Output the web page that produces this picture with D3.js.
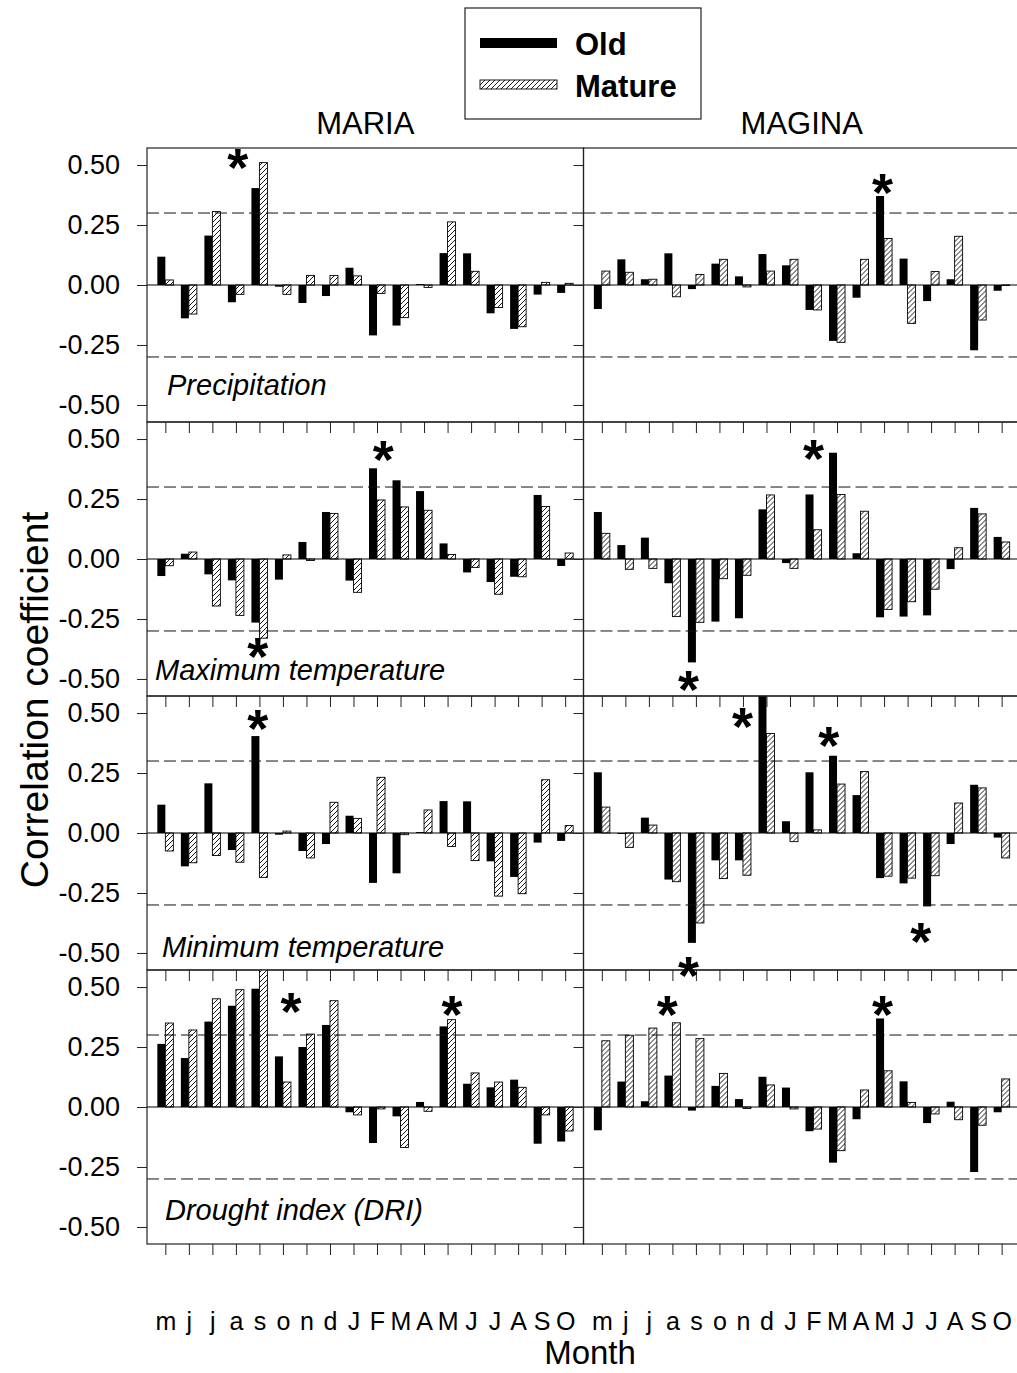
<!DOCTYPE html>
<html lang="en">
<head>
    <meta charset="UTF-8">
    <script src="https://d3js.org/d3.v7.min.js"></script>
    <title>Correlation coefficient</title>
    <style>
        body { margin: 0; background: #fff; }
        svg { font-family: "Liberation Sans", Arial, sans-serif; }
    </style>
</head>
<body>
    <svg id="svg1" width="1017" height="1373"></svg>

    <script>
        // ---- data ----
        const months = ["m","j","j","a","s","o","n","d","J","F","M","A","M","J","J","A","S","O"];
        const sites = ["MARIA", "MAGINA"];
        const variables = ["Precipitation", "Maximum temperature", "Minimum temperature", "Drought index (DRI)"];
        const yTicks = [0.5, 0.25, 0, -0.25, -0.5];
        const yTickLabels = ["0.50", "0.25", "0.00", "-0.25", "-0.50"];
        const sigLevel = 0.3;

        // precipitation
        const precMariaOld     = [0.118,-0.139,0.206,-0.072,0.404,-0.007,-0.075,-0.046,0.072,-0.21,-0.169,0.004,0.133,0.132,-0.118,-0.183,-0.04,-0.033];
        const precMariaMature  = [0.021,-0.121,0.306,-0.039,0.51,-0.039,0.04,0.04,0.038,-0.035,-0.136,-0.01,0.263,0.057,-0.094,-0.174,0.011,0.007];
        const precMaginaOld    = [-0.1,0.107,0.024,0.132,-0.017,0.089,0.036,0.129,0.082,-0.104,-0.233,-0.053,0.371,0.11,-0.067,0.024,-0.272,-0.024];
        const precMaginaMature = [0.058,0.053,0.024,-0.049,0.044,0.107,-0.008,0.058,0.107,-0.104,-0.239,0.107,0.194,-0.16,0.056,0.203,-0.146,-0.002];
        // maximum temperature
        const tmaxMariaOld     = [-0.071,0.022,-0.064,-0.089,-0.265,-0.086,0.071,0.196,-0.09,0.378,0.328,0.283,0.065,-0.056,-0.096,-0.074,0.267,-0.029];
        const tmaxMariaMature  = [-0.028,0.029,-0.196,-0.235,-0.33,0.017,-0.006,0.19,-0.139,0.246,0.217,0.203,0.019,-0.035,-0.147,-0.074,0.219,0.025];
        const tmaxMaginaOld    = [0.196,0.058,0.089,-0.101,-0.431,-0.261,-0.247,0.207,-0.017,0.269,0.443,0.024,-0.243,-0.24,-0.235,-0.042,0.213,0.092];
        const tmaxMaginaMature = [0.107,-0.043,-0.039,-0.24,-0.264,-0.082,-0.068,0.267,-0.039,0.122,0.269,0.199,-0.21,-0.178,-0.126,0.047,0.188,0.071];
        // minimum temperature
        const tminMariaOld     = [0.118,-0.139,0.207,-0.071,0.404,-0.007,-0.075,-0.046,0.072,-0.208,-0.168,0.004,0.133,0.132,-0.118,-0.183,-0.04,-0.033];
        const tminMariaMature  = [-0.075,-0.124,-0.094,-0.122,-0.185,0.008,-0.104,0.128,0.061,0.232,-0.007,0.096,-0.056,-0.115,-0.263,-0.253,0.222,0.031];
        const tminMaginaOld    = [0.253,-0.004,0.064,-0.194,-0.458,-0.114,-0.114,0.6,0.049,0.253,0.322,0.158,-0.188,-0.21,-0.306,-0.046,0.201,-0.019];
        const tminMaginaMature = [0.108,-0.06,0.033,-0.203,-0.375,-0.19,-0.176,0.415,-0.036,0.013,0.204,0.256,-0.18,-0.188,-0.178,0.125,0.188,-0.104];
        // drought index
        const driMariaOld      = [0.263,0.204,0.356,0.422,0.493,0.211,0.25,0.342,-0.022,-0.15,-0.039,0.021,0.336,0.097,0.082,0.114,-0.153,-0.144];
        const driMariaMature   = [0.35,0.321,0.451,0.489,0.6,0.104,0.304,0.443,-0.033,-0.008,-0.169,-0.018,0.364,0.142,0.104,0.082,-0.033,-0.1];
        const driMaginaOld     = [-0.097,0.106,0.024,0.131,-0.015,0.088,0.033,0.126,0.081,-0.101,-0.232,-0.051,0.369,0.107,-0.067,0.022,-0.271,-0.022];
        const driMaginaMature  = [0.276,0.299,0.329,0.351,0.285,0.14,-0.006,0.092,-0.008,-0.092,-0.182,0.071,0.151,0.019,-0.029,-0.053,-0.076,0.117];

        // significance marks: row, col, month position, correlation value
        const stars = [
            {row: 0, col: 0, pos: 3.08, val: 0.537},
            {row: 0, col: 1, pos: 11.93, val: 0.435},
            {row: 1, col: 0, pos: 9.27, val: 0.461},
            {row: 1, col: 0, pos: 3.93, val: -0.358},
            {row: 1, col: 1, pos: 9.0, val: 0.465},
            {row: 1, col: 1, pos: 3.69, val: -0.494},
            {row: 2, col: 0, pos: 3.93, val: 0.484},
            {row: 2, col: 1, pos: 5.98, val: 0.49},
            {row: 2, col: 1, pos: 9.65, val: 0.411},
            {row: 2, col: 1, pos: 13.56, val: -0.406},
            {row: 2, col: 1, pos: 3.69, val: -0.546},
            {row: 3, col: 0, pos: 5.34, val: 0.447},
            {row: 3, col: 0, pos: 12.19, val: 0.433},
            {row: 3, col: 1, pos: 2.78, val: 0.435},
            {row: 3, col: 1, pos: 11.93, val: 0.435}
        ];

        const panels = [
            [[precMariaOld, precMariaMature], [precMaginaOld, precMaginaMature]],
            [[tmaxMariaOld, tmaxMariaMature], [tmaxMaginaOld, tmaxMaginaMature]],
            [[tminMariaOld, tminMariaMature], [tminMaginaOld, tminMaginaMature]],
            [[driMariaOld, driMariaMature], [driMaginaOld, driMaginaMature]]
        ];

        // ---- layout ----
        const svg1 = d3.select("svg#svg1");
        const margin = {top: 148, left: 147};
        const panelW = 436.5;
        const panelH = 274;
        const barW = 8;
        // where the variable name sits in each row (px from panel left / from zero line)
        const labelPos = [{dx: 20, dy: 110}, {dx: 8, dy: 121}, {dx: 15, dy: 124}, {dx: 18, dy: 113}];

        const yScale = d3.scaleLinear().domain([-0.571, 0.571]).range([panelH, 0]);
        const xBand = d3.scaleBand().domain(d3.range(months.length))
            .range([0, panelW]).paddingInner(0).paddingOuter(0.28);
        const xPos = d3.scaleLinear().domain([0, months.length - 1])
            .range([xBand(0) + xBand.bandwidth() / 2, xBand(months.length - 1) + xBand.bandwidth() / 2]);

        const defs = svg1.append("defs");
        const hatch = defs.append("pattern")
            .attr("id", "hatch")
            .attr("patternUnits", "userSpaceOnUse")
            .attr("width", 5).attr("height", 5);
        hatch.append("rect").attr("width", 5).attr("height", 5).attr("fill", "white");
        hatch.append("path")
            .attr("d", "M-1,1 L1,-1 M0,5 L5,0 M4,6 L6,4")
            .attr("stroke", "#000")
            .attr("stroke-width", 0.9);

        defs.append("clipPath").attr("id", "panelClip")
            .append("rect").attr("width", panelW).attr("height", panelH);

        panels.forEach((rowData, r) => {
            rowData.forEach((pair, c) => {
                const g = svg1.append("g")
                    .attr("transform", `translate(${margin.left + c * panelW},${margin.top + r * panelH})`);

                // bars
                const bars = g.append("g").attr("clip-path", "url(#panelClip)");
                pair[0].forEach((v, i) => {
                    bars.append("rect")
                        .attr("x", xPos(i) - barW)
                        .attr("width", barW)
                        .attr("y", yScale(Math.max(v, 0)))
                        .attr("height", Math.abs(yScale(v) - yScale(0)))
                        .attr("fill", "black");
                });
                pair[1].forEach((v, i) => {
                    bars.append("rect")
                        .attr("x", xPos(i))
                        .attr("width", barW)
                        .attr("y", yScale(Math.max(v, 0)))
                        .attr("height", Math.abs(yScale(v) - yScale(0)))
                        .attr("fill", "url(#hatch)")
                        .attr("stroke", "#000")
                        .attr("stroke-width", 0.9);
                });

                // zero line and significance lines
                g.append("line")
                    .attr("x1", 0).attr("x2", panelW)
                    .attr("y1", yScale(0)).attr("y2", yScale(0))
                    .attr("stroke", "black").attr("stroke-width", 1.2);
                [sigLevel, -sigLevel].forEach(s => {
                    g.append("line")
                        .attr("x1", 0).attr("x2", panelW)
                        .attr("y1", yScale(s)).attr("y2", yScale(s))
                        .attr("stroke", "#111").attr("stroke-width", 1)
                        .attr("stroke-dasharray", "12,5");
                });

                // border
                g.append("rect")
                    .attr("width", panelW).attr("height", panelH)
                    .attr("fill", "none").attr("stroke", "#222").attr("stroke-width", 1.2);

                // y axis (ticks outward)
                const yAxis = d3.axisLeft(yScale).tickValues(yTicks).tickSize(10).tickPadding(17)
                    .tickFormat((d, i) => c === 0 ? yTickLabels[i] : "");
                const ya = g.append("g").call(yAxis);
                ya.select(".domain").remove();
                ya.selectAll("text").attr("font-size", 27).attr("fill", "black")
                    .attr("font-family", "'Liberation Sans', Arial, sans-serif");
                ya.selectAll("line").attr("stroke", "#222");

                // x axis ticks
                const xAxis = d3.axisBottom(xPos).tickValues(d3.range(months.length)).tickSize(11).tickPadding(57)
                    .tickFormat(i => r === panels.length - 1 ? months[i] : "");
                const xa = g.append("g").attr("transform", `translate(0,${panelH})`).call(xAxis);
                xa.select(".domain").remove();
                xa.selectAll("text").attr("font-size", 25).attr("fill", "black")
                    .attr("font-family", "'Liberation Sans', Arial, sans-serif");
                xa.selectAll("line").attr("stroke", "#222");

                // variable name
                if (c === 0) {
                    g.append("text")
                        .attr("x", labelPos[r].dx)
                        .attr("y", yScale(0) + labelPos[r].dy)
                        .attr("font-size", 29)
                        .attr("font-style", "italic")
                        .text(variables[r]);
                }
            });
        });

        // asterisks
        stars.forEach(s => {
            svg1.append("text")
                .attr("x", margin.left + s.col * panelW + xPos(s.pos))
                .attr("y", margin.top + s.row * panelH + yScale(s.val) + 30)
                .attr("text-anchor", "middle")
                .attr("font-size", 54)
                .attr("font-weight", "bold")
                .text("*");
        });

        // site titles
        sites.forEach((s, c) => {
            svg1.append("text")
                .attr("x", margin.left + c * panelW + panelW / 2)
                .attr("y", 134)
                .attr("text-anchor", "middle")
                .attr("font-size", 31)
                .text(s);
        });

        // axis titles
        svg1.append("text")
            .attr("transform", "rotate(-90)")
            .attr("x", -700)
            .attr("y", 48)
            .attr("text-anchor", "middle")
            .attr("font-size", 39)
            .text("Correlation coefficient");

        svg1.append("text")
            .attr("x", 590)
            .attr("y", 1364)
            .attr("text-anchor", "middle")
            .attr("font-size", 33)
            .text("Month");

        // legend
        const legend = svg1.append("g");
        legend.append("rect")
            .attr("x", 465).attr("y", 8).attr("width", 236).attr("height", 111)
            .attr("fill", "white").attr("stroke", "#222").attr("stroke-width", 1.2);
        legend.append("line")
            .attr("x1", 480).attr("x2", 557).attr("y1", 43).attr("y2", 43)
            .attr("stroke", "black").attr("stroke-width", 10);
        legend.append("rect")
            .attr("x", 480).attr("y", 80).attr("width", 77).attr("height", 9)
            .attr("fill", "url(#hatch)").attr("stroke", "#000").attr("stroke-width", 0.9);
        legend.append("text")
            .attr("x", 575).attr("y", 55)
            .attr("font-size", 31).attr("font-weight", "bold")
            .text("Old");
        legend.append("text")
            .attr("x", 575).attr("y", 97)
            .attr("font-size", 31).attr("font-weight", "bold")
            .text("Mature");
    </script>
</body>
</html>
